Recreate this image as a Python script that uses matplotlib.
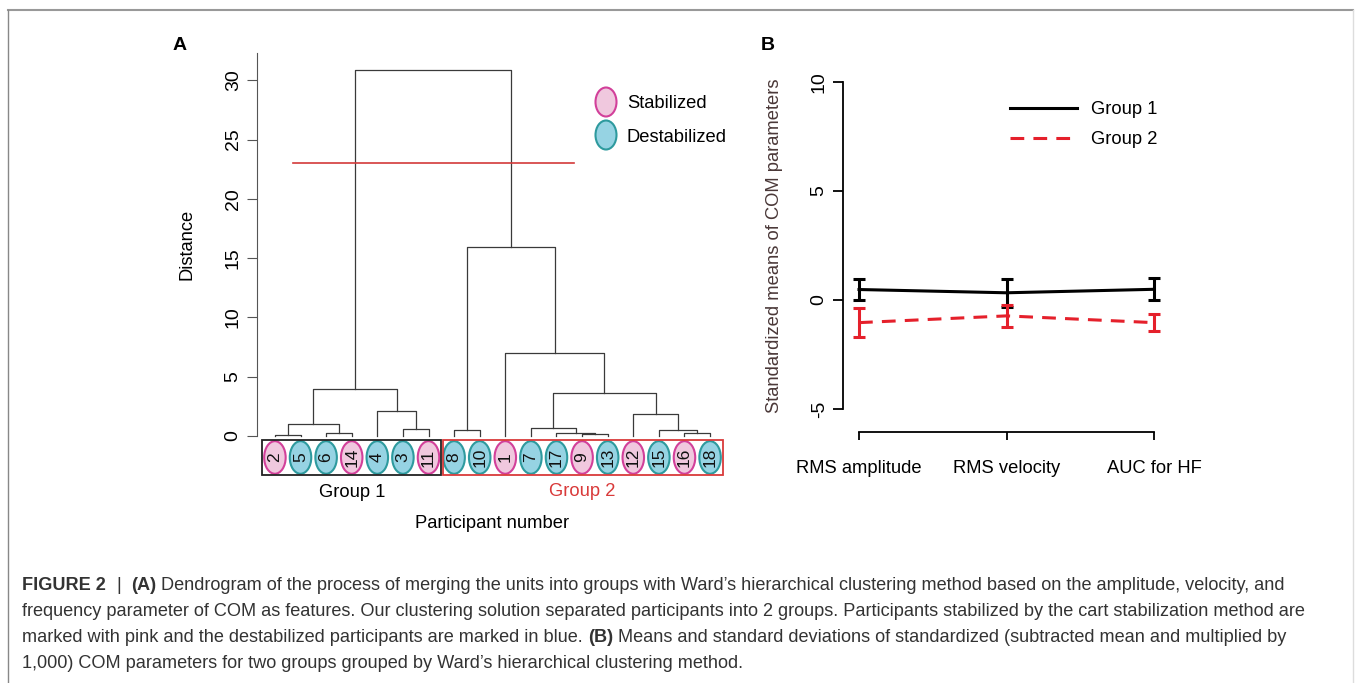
import matplotlib
matplotlib.use('Agg')
import matplotlib.pyplot as plt
from matplotlib.patches import Ellipse, Rectangle
from matplotlib.lines import Line2D
import numpy as np

plt.rcParams['font.family'] = ['Liberation Sans', 'DejaVu Sans']
plt.rcParams['axes.unicode_minus'] = False

# ---- data ----
leaf_order = [2, 5, 6, 14, 4, 3, 11, 8, 10, 1, 7, 17, 9, 13, 12, 15, 16, 18]
stabilized = [2, 14, 11, 1, 9, 12, 16]
n_group1 = 7
# nested merges: (left, right, height)
tree = ((((2, 5, 0.1), (6, 14, 0.22), 1.0), (4, (3, 11, 0.6), 2.1), 4.0),
        ((8, 10, 0.5),
         (1, ((7, (17, (9, 13, 0.18), 0.22), 0.7),
              (12, (15, (16, 18, 0.25), 0.5), 1.85), 3.6), 7.0), 15.9), 30.9)
cut_height = 23
dist_ticks = [0, 5, 10, 15, 20, 25, 30]

params = ['RMS amplitude', 'RMS velocity', 'AUC for HF']
g1_mean = [0.48, 0.33, 0.49]
g1_sd = [0.47, 0.65, 0.50]
g2_mean = [-1.04, -0.73, -1.04]
g2_sd = [0.65, 0.49, 0.38]

W, H = 1355, 683
fig = plt.figure(figsize=(W / 100, H / 100), dpi=100)
fs = 13.2


def px_box(l, t, r, b):
    return [l / W, 1 - b / H, (r - l) / W, (b - t) / H]


def fxy(x, y):
    return x / W, 1 - y / H


pink_fc, pink_ec = '#F0C8DE', '#D2409A'
blue_fc, blue_ec = '#96D3E3', '#2E9A9E'
dcol = '#3A3A3A'

# ---- panel A: dendrogram ----
axA = fig.add_axes(px_box(257, 53, 728, 436))
axA.set_xlim(-0.7, 17.7)
axA.set_ylim(0, 32.3)
pos = {leaf: i for i, leaf in enumerate(leaf_order)}


def draw(node):
    if isinstance(node, int):
        return pos[node], 0.0
    left, right, h = node
    xl, yl = draw(left)
    xr, yr = draw(right)
    axA.plot([xl, xl, xr, xr], [yl, h, h, yr], color=dcol, lw=0.9, clip_on=False)
    return (xl + xr) / 2, h


draw(tree)
axA.axhline(cut_height, xmin=0.076, xmax=0.673, color='#D33A3A', lw=1.2)

for sp in ['top', 'right', 'bottom']:
    axA.spines[sp].set_visible(False)
axA.spines['left'].set_color('#555555')
axA.set_xticks([])
axA.set_yticks(dist_ticks)
axA.tick_params(axis='y', length=7, color='#555555', labelsize=14, pad=4, labelrotation=90)
for t in axA.get_yticklabels():
    t.set_va('center')
axA.set_ylabel('Distance', fontsize=fs)
axA.yaxis.set_label_coords(-0.13, 0.5)

for i, leaf in enumerate(leaf_order):
    st = leaf in stabilized
    axA.add_patch(Ellipse((i, -1.81), 0.84, 2.75, fc=pink_fc if st else blue_fc,
                          ec=pink_ec if st else blue_ec, lw=1.5, clip_on=False))
    axA.text(i, -1.81, str(leaf), rotation=90, ha='center', va='center',
             fontsize=12.5, color='#111111', clip_on=False)

g2_left = n_group1 - 0.44
axA.add_patch(Rectangle((-0.5, -3.29), n_group1 - 0.02, 2.95, fill=False,
                        ec='#222222', lw=1.3, clip_on=False))
axA.add_patch(Rectangle((g2_left, -3.29), len(leaf_order) - 0.5 - g2_left, 2.95,
                        fill=False, ec='#D93A3A', lw=1.3, clip_on=False))
axA.text((n_group1 - 1) / 2, -4.8, 'Group 1', ha='center', va='center', fontsize=fs)
axA.text((n_group1 + len(leaf_order) - 1) / 2, -4.65, 'Group 2', ha='center', va='center',
         fontsize=fs, color='#D93A3A')
axA.text(8.5, -7.42, 'Participant number', ha='center', va='center', fontsize=fs)

# legend A
for y, fc, ec, lab in [(102, pink_fc, pink_ec, 'Stabilized'), (135, blue_fc, blue_ec, 'Destabilized')]:
    fig.add_artist(Ellipse(fxy(606, y), 21 / W, 29 / H, fc=fc, ec=ec, lw=1.5,
                           transform=fig.transFigure))
    fig.text(*fxy(627, y + 2), lab, ha='left', va='center', fontsize=fs)

fig.text(*fxy(180, 45), 'A', ha='center', va='center', fontsize=14, weight='bold')
fig.text(*fxy(768, 45), 'B', ha='center', va='center', fontsize=14, weight='bold')

# ---- panel B ----
axB = fig.add_axes(px_box(843, 69, 1170, 422))
x = np.arange(1, len(params) + 1)
red = '#E5202B'
dash = (0, (4.5, 3))
axB.errorbar(x, g1_mean, yerr=g1_sd, color='black', lw=2.2, capsize=4.5,
             capthick=2.2, elinewidth=2.2)
eb = axB.errorbar(x, g2_mean, yerr=g2_sd, color=red, lw=2.2, capsize=4.5,
                  capthick=2.2, elinewidth=2.2)
eb.lines[0].set_linestyle(dash)
axB.set_xlim(0.8915, 3.1085)
axB.set_ylim(-5.6, 10.6)
for sp in ['top', 'right']:
    axB.spines[sp].set_visible(False)
axB.spines['left'].set_bounds(-5, 10)
axB.spines['bottom'].set_bounds(1, 3)
axB.spines['bottom'].set_position(('outward', 7.5))
for sp in ['left', 'bottom']:
    axB.spines[sp].set_linewidth(1.3)
axB.set_yticks([-5, 0, 5, 10])
axB.set_xticks(x)
axB.set_xticklabels(params)
axB.tick_params(axis='y', length=7, width=1.3, labelsize=14, pad=4, labelrotation=90)
axB.tick_params(axis='x', length=6, width=1.3, labelsize=fs, pad=14)
for t in axB.get_yticklabels():
    t.set_va('center')
axB.set_ylabel('Standardized means of COM parameters', fontsize=fs, color='#4A3838')
axB.yaxis.set_label_coords(-0.183, 0.5)

handles = [Line2D([], [], color='black', lw=2.2),
           Line2D([], [], color=red, lw=2.2, ls=dash)]
axB.legend(handles, ['Group 1', 'Group 2'], loc='upper left',
           bbox_to_anchor=fxy(1010, 101), bbox_transform=fig.transFigure,
           frameon=False, fontsize=fs, handlelength=3.66, handletextpad=0.77,
           labelspacing=0.72, borderpad=0, borderaxespad=0)

# ---- caption ----
cap_size = 13.1
cap_col = '#333333'
space = 5


def chain(parts, x0, y0):
    prev = fig.text(x0 / W, 1 - y0 / H, parts[0][0], fontsize=cap_size, color=cap_col,
                    weight=parts[0][1], va='bottom', ha='left')
    for txt, w, gap in parts[1:]:
        prev = axA.annotate(txt, xy=(1, 0), xycoords=prev, xytext=(gap, 0),
                            textcoords='offset pixels', fontsize=cap_size, color=cap_col,
                            weight=w, va='bottom', ha='left', annotation_clip=False)


chain([('FIGURE 2', 'bold'), ('|', 'normal', space * 2), ('(A)', 'bold', space * 2),
       ('Dendrogram of the process of merging the units into groups with Ward\u2019s hierarchical '
        'clustering method based on the amplitude, velocity, and', 'normal', space)], 22, 594)
chain([('frequency parameter of COM as features. Our clustering solution separated participants '
        'into 2 groups. Participants stabilized by the cart stabilization method are', 'normal')],
      22, 620)
chain([('marked with pink and the destabilized participants are marked in blue.', 'normal'),
       ('(B)', 'bold', space),
       ('Means and standard deviations of standardized (subtracted mean and multiplied by',
        'normal', space)], 22, 646)
chain([('1,000) COM parameters for two groups grouped by Ward\u2019s hierarchical clustering method.',
        'normal')], 22, 672)

# frame
fig.add_artist(Line2D([8 / W, 1353 / W], [1 - 10 / H] * 2, transform=fig.transFigure,
                      color='#999999', lw=1.5))
fig.add_artist(Line2D([8 / W] * 2, [1 - 10 / H, 0], transform=fig.transFigure,
                      color='#888888', lw=1.0))
fig.add_artist(Line2D([1353 / W] * 2, [1 - 10 / H, 0], transform=fig.transFigure,
                      color='#DDDDDD', lw=1.0))

fig.savefig('out.png', dpi=100)
